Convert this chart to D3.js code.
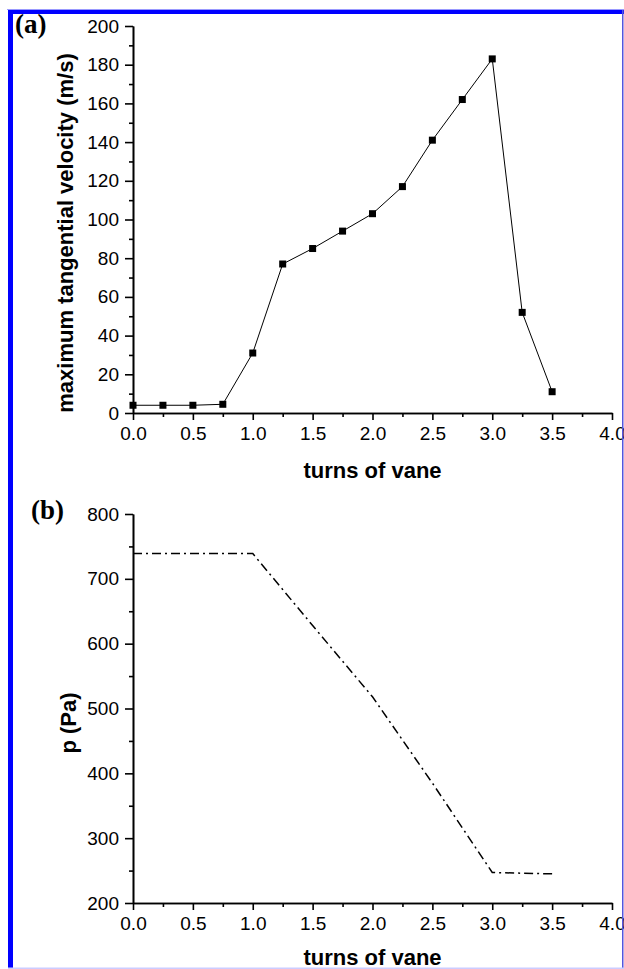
<!DOCTYPE html>
<html>
<head>
<meta charset="utf-8">
<script src="https://cdn.jsdelivr.net/npm/d3@7"></script>
<style>
  body { margin: 0; background: #fff; }
  svg { display: block; }
  .tick text { font-family: "Liberation Sans", Arial, sans-serif; font-size: 19px; fill: #000; }
  .title { font-family: "Liberation Sans", Arial, sans-serif; font-size: 22px; font-weight: bold; }
  .panel { font-family: "Liberation Serif", "Times New Roman", serif; font-size: 27px; font-weight: bold; }
</style>
</head>
<body>
<div id="chart"></div>
<script>
// panel (a): velocity vs turns
const turnsA = [0, 0.25, 0.5, 0.75, 1.0, 1.25, 1.5, 1.75, 2.0, 2.25, 2.5, 2.75, 3.0, 3.25, 3.5];
const velocity = [4, 4, 4, 4.5, 31, 77, 85, 94, 103, 117, 141, 162, 183, 52, 11];

// panel (b): pressure vs turns
const turnsB = [0, 0.5, 1.0, 1.5, 2.0, 2.5, 3.0, 3.5];
const pressure = [739, 739, 739, 628, 518, 385, 247, 245];

// tick labels
const xTicks = [0, 0.5, 1, 1.5, 2, 2.5, 3, 3.5, 4];
const yTicksA = d3.range(0, 201, 20);
const yTicksB = d3.range(200, 801, 100);

const width = 624;
const height = 969;

const svg = d3.select("#chart")
  .append("svg")
  .attr("width", width)
  .attr("height", height);

const x = d3.scaleLinear().domain([0, 4]).range([133, 612]);
const yA = d3.scaleLinear().domain([0, 200]).range([413, 26]);
const yB = d3.scaleLinear().domain([200, 800]).range([903, 514]);

// draws a major + minor tick axis pair
function drawAxes(yScale, yTicks, yMinorStep, y0) {
  const [lo, hi] = yScale.domain();
  const g = svg.append("g");

  g.append("g")
    .attr("transform", `translate(0,${y0})`)
    .call(d3.axisBottom(x).tickValues(xTicks).tickFormat(d3.format(".1f")).tickSize(7).tickPadding(7).tickSizeOuter(0));
  g.append("g")
    .attr("transform", `translate(0,${y0})`)
    .call(d3.axisBottom(x).tickValues(d3.range(0.25, 4, 0.5)).tickFormat("").tickSize(4).tickSizeOuter(0));

  g.append("g")
    .attr("transform", `translate(${x(0)},0)`)
    .call(d3.axisLeft(yScale).tickValues(yTicks).tickSize(8).tickPadding(6).tickSizeOuter(0));
  g.append("g")
    .attr("transform", `translate(${x(0)},0)`)
    .call(d3.axisLeft(yScale).tickValues(d3.range(lo + yMinorStep, hi, yMinorStep * 2)).tickFormat("").tickSize(4).tickSizeOuter(0));

  g.selectAll(".domain, .tick line").attr("stroke", "#000").attr("stroke-width", 1.6);
  g.selectAll(".tick text").attr("font-size", null).attr("font-family", null);
  return g;
}

// ---- panel (a)
drawAxes(yA, yTicksA, 10, 413);

const lineA = d3.line().x((d, i) => x(turnsA[i])).y(d => yA(d));
svg.append("path")
  .datum(velocity)
  .attr("d", lineA)
  .attr("fill", "none")
  .attr("stroke", "#000")
  .attr("stroke-width", 1);

svg.append("g")
  .selectAll("rect")
  .data(velocity)
  .join("rect")
  .attr("x", (d, i) => x(turnsA[i]) - 3.5)
  .attr("y", d => yA(d) - 3.5)
  .attr("width", 7)
  .attr("height", 7)
  .attr("fill", "#000");

svg.append("text").attr("class", "title")
  .attr("x", x(2)).attr("y", 478)
  .attr("text-anchor", "middle")
  .text("turns of vane");

svg.append("text").attr("class", "title")
  .attr("transform", "translate(73,233) rotate(-90)")
  .attr("text-anchor", "middle")
  .text("maximum tangential velocity (m/s)");

svg.append("text").attr("class", "panel")
  .attr("x", 15).attr("y", 33)
  .text("(a)");

// ---- panel (b)
drawAxes(yB, yTicksB, 50, 903);

const lineB = d3.line().x((d, i) => x(turnsB[i])).y(d => yB(d));
svg.append("path")
  .datum(pressure)
  .attr("d", lineB)
  .attr("fill", "none")
  .attr("stroke", "#000")
  .attr("stroke-width", 1.5)
  .attr("stroke-dasharray", "9,4,2,4");

svg.append("text").attr("class", "title")
  .attr("x", x(2)).attr("y", 965)
  .attr("text-anchor", "middle")
  .text("turns of vane");

svg.append("text").attr("class", "title")
  .attr("transform", "translate(76,723) rotate(-90)")
  .attr("text-anchor", "middle")
  .text("p (Pa)");

svg.append("text").attr("class", "panel")
  .attr("x", 31).attr("y", 519)
  .text("(b)");

// frame around the figure
svg.append("rect").attr("x", 7).attr("y", 9).attr("width", 617).attr("height", 1).attr("fill", "#9999ff");
svg.append("rect").attr("x", 8).attr("y", 10).attr("width", 616).attr("height", 4).attr("fill", "#0000ff");
svg.append("rect").attr("x", 8).attr("y", 10).attr("width", 5).attr("height", 959).attr("fill", "#0000ff");
svg.append("rect").attr("x", 622).attr("y", 10).attr("width", 1.5).attr("height", 959).attr("fill", "#5555dd");
svg.append("rect").attr("x", 8).attr("y", 967.5).attr("width", 616).attr("height", 1.5).attr("fill", "#ccccff");
</script>
</body>
</html>
